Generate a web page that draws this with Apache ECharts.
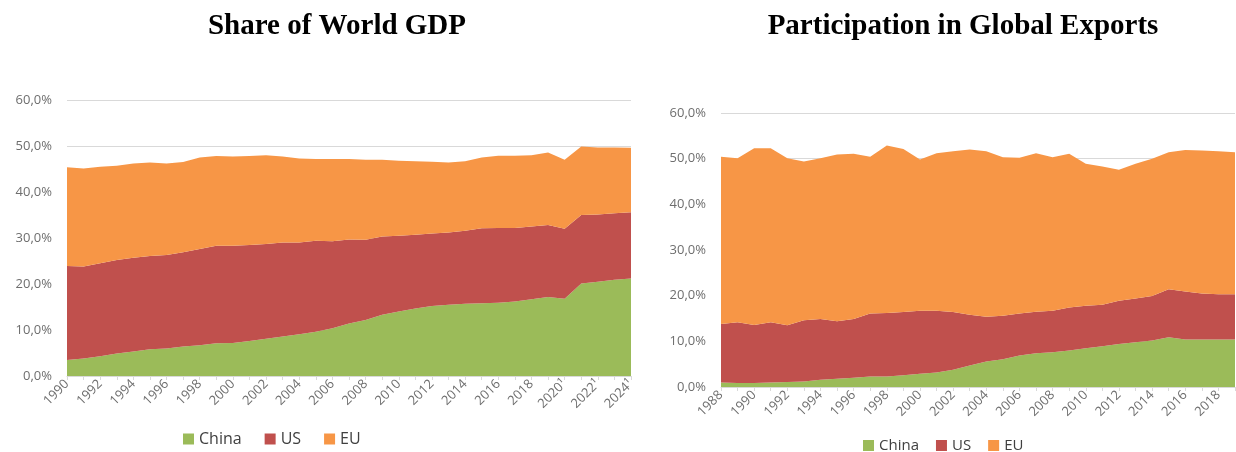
<!DOCTYPE html>
<html>
<head>
<meta charset="utf-8">
<script src="https://cdn.jsdelivr.net/npm/echarts@6/dist/echarts.min.js"></script>
<style>
  html, body { margin: 0; padding: 0; background: #fff; }
  #chart { width: 1236px; height: 452px; }
</style>
</head>
<body>
<div id="chart"></div>
<script>
// Share of World GDP (%), 1990-2024
const gdpYears = ['1990','1991','1992','1993','1994','1995','1996','1997','1998','1999',
  '2000','2001','2002','2003','2004','2005','2006','2007','2008','2009',
  '2010','2011','2012','2013','2014','2015','2016','2017','2018','2019',
  '2020¹','2021¹','2022¹','2023¹','2024¹']
const gdpChina = [3.5,3.8,4.3,4.9,5.3,5.8,6.0,6.4,6.7,7.1,7.2,7.6,8.1,8.6,9.1,9.6,10.4,11.4,12.2,13.3,
  14.0,14.7,15.2,15.5,15.7,15.8,15.9,16.2,16.7,17.2,16.8,20.1,20.5,20.9,21.2]
const gdpUS = [20.4,20.0,20.2,20.3,20.4,20.3,20.3,20.5,20.9,21.2,21.1,20.9,20.6,20.4,19.9,19.8,18.9,18.3,17.4,17.0,
  16.5,16.0,15.8,15.7,15.9,16.3,16.3,16.0,15.8,15.6,15.2,14.9,14.6,14.5,14.4]
const gdpEU = [21.5,21.3,21.0,20.5,20.5,20.3,19.9,19.6,19.9,19.5,19.4,19.3,19.3,18.7,18.3,17.8,17.9,17.5,17.4,16.7,
  16.3,16.0,15.6,15.2,15.1,15.4,15.7,15.7,15.5,15.8,15.0,14.9,14.6,14.3,14.0]

// Participation in Global Exports (%), 1988-2019
const expYears = ['1988','1989','1990','1991','1992','1993','1994','1995','1996','1997',
  '1998','1999','2000','2001','2002','2003','2004','2005','2006','2007',
  '2008','2009','2010','2011','2012','2013','2014','2015','2016','2017','2018','2019']
const expChina = [1.0,0.9,0.9,1.0,1.1,1.2,1.6,1.8,2.0,2.3,2.3,2.6,2.9,3.2,3.8,4.7,5.6,6.1,6.9,7.4,
  7.6,8.0,8.5,8.9,9.4,9.8,10.2,10.9,10.4,10.4,10.4,10.4]
const expUS = [12.8,13.3,12.7,13.2,12.4,13.4,13.3,12.6,12.9,13.8,13.9,13.8,13.8,13.5,12.6,11.1,9.8,9.5,9.2,9.1,
  9.1,9.4,9.3,9.1,9.5,9.6,9.7,10.5,10.5,10.1,9.9,9.9]
const expEU = [36.6,35.9,38.7,38.1,36.6,34.8,35.2,36.5,36.2,34.3,36.7,35.7,33.1,34.5,35.2,36.2,36.2,34.7,34.1,34.7,
  33.6,33.7,31.1,30.3,28.7,29.5,30.1,30.0,31.0,31.3,31.3,31.1]

const yTicks = [0, 10, 20, 30, 40, 50, 60]

const names = ['China', 'US', 'EU']
const colors = ['#9BBB59', '#C0504D', '#F79646']

const pct = v => v.toFixed(1).replace('.', ',') + '%'

const xAxisBase = (data, gi) => ({
  type: 'category',
  gridIndex: gi,
  data: data,
  boundaryGap: false,
  axisLine: { lineStyle: { color: '#d9d9d9' } },
  axisTick: { show: true, interval: 0, length: 4, lineStyle: { color: '#d9d9d9' } },
  axisLabel: { interval: 1, rotate: 45, color: '#6e6e6e', fontSize: 13, fontFamily: 'Open Sans', margin: 6 }
})

const yAxisBase = gi => ({
  type: 'value',
  gridIndex: gi,
  min: yTicks[0],
  max: yTicks[yTicks.length - 1],
  interval: 10,
  axisLine: { show: false },
  axisTick: { show: false },
  splitLine: { lineStyle: { color: '#d9d9d9', width: 1 } },
  axisLabel: { color: '#6e6e6e', fontSize: 13, fontFamily: 'Open Sans', margin: 15, formatter: pct }
})

const areaSeries = (name, data, color, gi) => ({
  name: name,
  type: 'line',
  stack: 'g' + gi,
  xAxisIndex: gi,
  yAxisIndex: gi,
  data: data,
  showSymbol: false,
  symbol: 'none',
  lineStyle: { width: 0 },
  areaStyle: { color: color, opacity: 1 },
  itemStyle: { color: color },
  emphasis: { disabled: true }
})

const legendBase = (left, top, size, gap) => ({
  data: names,
  left: left,
  top: top,
  icon: 'rect',
  itemWidth: 11,
  itemHeight: 11,
  itemGap: gap,
  textStyle: { color: '#404040', fontSize: size, fontFamily: 'Open Sans' }
})

const titleStyle = { fontFamily: 'Liberation Serif', fontWeight: 'bold', fontSize: 29, color: '#000' }

const chart = echarts.init(document.getElementById('chart'))
chart.setOption({
  animation: false,
  color: colors,
  title: [
    { text: 'Share of World GDP', left: 332, top: 7, textAlign: 'center', textStyle: titleStyle },
    { text: 'Participation in Global Exports', left: 958, top: 7, textAlign: 'center', textStyle: titleStyle }
  ],
  legend: [legendBase(178, 426, 16, 23), legendBase(858, 433, 15, 17)],
  grid: [
    { left: 67, right: 605, top: 100, bottom: 76 },
    { left: 721, right: 1, top: 113, bottom: 65 }
  ],
  xAxis: [xAxisBase(gdpYears, 0), xAxisBase(expYears, 1)],
  yAxis: [yAxisBase(0), yAxisBase(1)],
  series: [
    areaSeries('China', gdpChina, colors[0], 0),
    areaSeries('US', gdpUS, colors[1], 0),
    areaSeries('EU', gdpEU, colors[2], 0),
    areaSeries('China', expChina, colors[0], 1),
    areaSeries('US', expUS, colors[1], 1),
    areaSeries('EU', expEU, colors[2], 1)
  ]
})

window.addEventListener('resize', () => chart.resize())
</script>
</body>
</html>
